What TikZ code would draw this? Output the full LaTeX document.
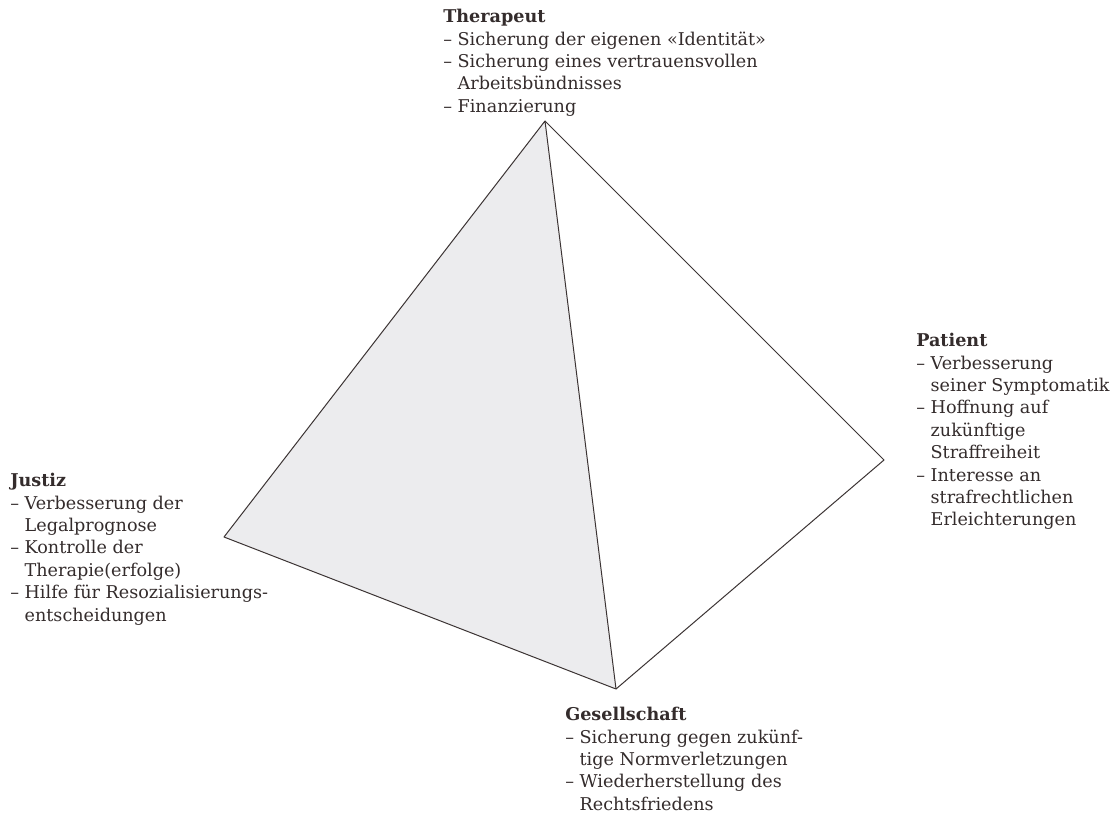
\documentclass[tikz,border=0pt]{standalone}
\usepackage{fontspec}
\setmainfont{DejaVu Serif}
\definecolor{ink}{RGB}{52,44,44}
\definecolor{facegray}{RGB}{236,236,238}
\definecolor{edge}{RGB}{60,52,52}
\newcommand{\ind}{\hphantom{–\ }}
\begin{document}
\begin{tikzpicture}[x=0.75pt,y=-0.75pt,
  lbl/.style={anchor=north west,inner sep=0pt,align=left,text=ink,
    font=\fontsize{13.2}{16.8}\selectfont},
  edgeline/.style={draw=edge,line width=0.75pt,line join=round}]
\useasboundingbox (0,0) rectangle (1118,816);
\fill[white] (0,0) rectangle (1118,816);
% vertices
\coordinate (A) at (545,121);
\coordinate (L) at (224,537);
\coordinate (B) at (616,689);
\coordinate (R) at (884,460);
% faces
\fill[facegray] (A) -- (L) -- (B) -- cycle;
\draw[edgeline] (A) -- (L) -- (B) -- cycle;
\draw[edgeline] (A) -- (R) -- (B);
% labels
\node[lbl] (ther) at (443,9) {\textbf{Therapeut}\\
– Sicherung der eigenen «Identität»\\
– Sicherung eines vertrauensvollen\\
\ind Arbeitsbündnisses\\
– Finanzierung};
\node[lbl] (pat) at (916,333) {\textbf{Patient}\\
– Verbesserung\\
\ind seiner Symptomatik\\
– Hoffnung auf\\
\ind zukünftige\\
\ind Straffreiheit\\
– Interesse an\\
\ind strafrechtlichen\\
\ind Erleichterungen};
\node[lbl] (jus) at (10,473) {\textbf{Justiz}\\
– Verbesserung der\\
\ind Legalprognose\\
– Kontrolle der\\
\ind Therapie(erfolge)\\
– Hilfe für Resozialisierungs-\\
\ind entscheidungen};
\node[lbl] (ges) at (565,707) {\textbf{Gesellschaft}\\
– Sicherung gegen zukünf-\\
\ind tige Normverletzungen\\
– Wiederherstellung des\\
\ind Rechtsfriedens};
\end{tikzpicture}
\end{document}
